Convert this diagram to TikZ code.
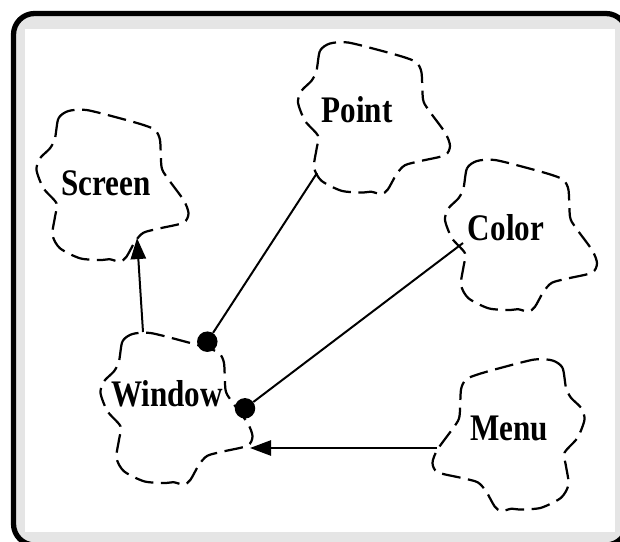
\documentclass[tikz,border=0pt]{standalone}
\usepackage{fontspec}
\setmainfont{Liberation Serif}[FakeStretch=0.83]
\usetikzlibrary{arrows.meta}

\definecolor{panelgray}{HTML}{E5E5E5}

\tikzset{
    blob/.style={line width=1.9pt, dash pattern=on 16pt off 6.5pt},
    cloudtext/.style={inner sep=0pt, font=\bfseries\fontsize{32}{32}\selectfont},
    link/.style={line width=1.7pt},
    arrowline/.style={link, -{Triangle[length=18pt,width=13pt]}},
    joint/.style={circle, fill, inner sep=0pt, minimum size=17.5pt},
    pics/cloud/.style={code={
        \draw[blob] plot[smooth cycle, tension=0.45] coordinates {
            (-57.5,-47.7) (-54,-67.7) (-44,-75) (-26,-76) (7.5,-67.7) (31,-61)
            (42.5,-56) (47.5,-46) (49,-19.3) (54,-9.3) (71,14) (76,27.3)
            (71,36.7) (47.5,42.3) (31,46.7) (22.5,55.7) (14,70.7) (7.5,75.7)
            (-2.5,73.3) (-12.5,74) (-32.5,72.3) (-52.5,62.3) (-60,49)
            (-57.5,30.7) (-56,17.3) (-69,2.3) (-76,-16) (-72.5,-27.7) (-62.5,-37.7)};
    }}
}

\begin{document}
\begin{tikzpicture}[x=0.03cm, y=-0.03cm]
    \useasboundingbox (0,0) rectangle (620,542);
    \clip (0,0) rectangle (620,542);

    % panel
    \draw[line width=4.5pt, rounded corners=18pt, fill=panelgray] (13.5,13.5) rectangle (627,545);
    \fill[white] (25,29) rectangle (615,532);

    % clouds
    \pic at (112.5,186) {cloud};
    \pic at (374,118.5) {cloud};
    \pic at (521,236) {cloud};
    \pic at (176.5,409) {cloud};
    \pic[xscale=-1] at (508.5,435.5) {cloud};

    \node[cloudtext] (screen) at (106,183) {Screen};
    \node[cloudtext] (point) at (357,110) {Point};
    \node[cloudtext] (color) at (506,228) {Color};
    \node[cloudtext] (window) at (167,394) {Window};
    \node[cloudtext] (menu) at (509,428) {Menu};

    \coordinate (wintop) at (143,332);
    \coordinate (scrbottom) at (137,238);
    \coordinate (pointfoot) at (317,173);
    \coordinate (colorside) at (463,243);
    \coordinate (menuside) at (437,448);
    \coordinate (winside) at (250,448);

    \node[joint] (winpoint) at (207.3,341.7) {};
    \node[joint] (wincolor) at (245,408.3) {};

    \draw[arrowline] (wintop) -- (scrbottom);
    \draw[link] (winpoint) -- (pointfoot);
    \draw[link] (wincolor) -- (colorside);
    \draw[arrowline] (menuside) -- (winside);
\end{tikzpicture}
\end{document}
